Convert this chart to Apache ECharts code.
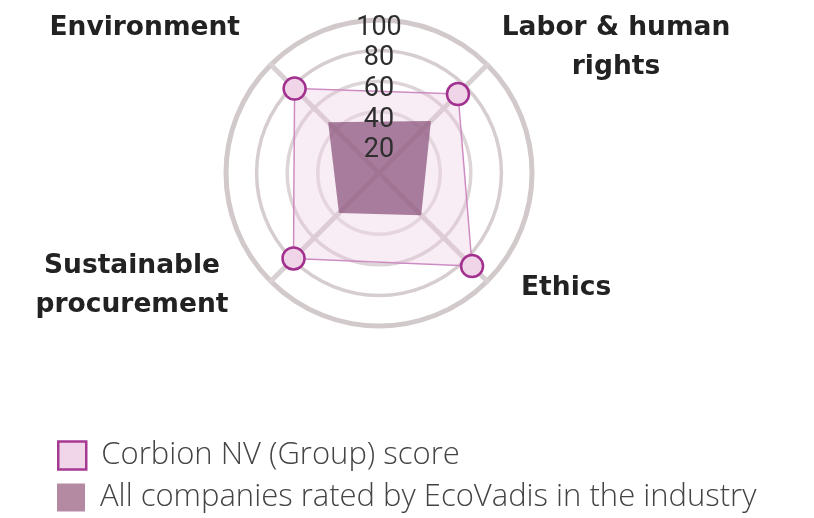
<!DOCTYPE html>
<html>
<head>
<meta charset="utf-8">
<script src="https://cdn.jsdelivr.net/npm/echarts@6.0.0/dist/echarts.min.js"></script>
<style>
html, body { margin: 0; padding: 0; background: #fff; }
#chart { width: 814px; height: 518px; }
</style>
</head>
<body>
<div id="chart"></div>
<script>
// indicators in radar order: start top-left, go counter-clockwise
const indicators = ['Environment', 'Sustainable\nprocurement', 'Ethics', 'Labor & human\nrights'];
const corbionScores = [78, 79, 86, 73];
const industryScores = [47, 37, 39, 48];
const tickValues = [20, 40, 60, 80, 100];
const seriesNames = ['Corbion NV (Group) score', 'All companies rated by EcoVadis in the industry'];

const CENTER = [379, 173];
const RADIUS = 153;
const maxScore = tickValues[tickValues.length - 1];
const step = tickValues[1] - tickValues[0];

const chart = echarts.init(document.getElementById('chart'));

// radar's own name layout doesn't match, names are placed by hand
const namePos = [
    { x: 240, y: 28, align: 'right' },
    { x: 132, y: 286, align: 'center' },
    { x: 521, y: 288, align: 'left' },
    { x: 616, y: 48, align: 'center' }
];

const indicatorList = indicators.map(n => ({ name: n, min: 0, max: maxScore }));

const legendText = {
    fontSize: 31,
    fontWeight: 300,
    fontFamily: '"Open Sans", sans-serif',
    color: '#444',
    lineHeight: 31,
    padding: [0, 0, 0, 10]
};

chart.setOption({
    animation: false,
    radar: [
        {
            center: CENTER,
            radius: RADIUS,
            startAngle: 135,
            shape: 'circle',
            splitNumber: tickValues.length,
            indicator: indicatorList,
            axisName: { show: false },
            axisLine: { lineStyle: { color: '#d8d0d2', width: 5 } },
            splitLine: {
                lineStyle: {
                    color: ['transparent', 'transparent', '#e4dddf', '#dcd4d6', '#d6cdcf', 'transparent'],
                    width: 3.5
                }
            },
            splitArea: { show: false }
        },
        {
            // outer ring is thicker
            center: CENTER,
            radius: RADIUS,
            startAngle: 135,
            shape: 'circle',
            splitNumber: tickValues.length,
            indicator: indicatorList,
            silent: true,
            axisName: { show: false },
            axisLine: { show: false },
            splitLine: {
                lineStyle: {
                    color: ['transparent', 'transparent', 'transparent', 'transparent', 'transparent', '#d2c9cb'],
                    width: 5
                }
            },
            splitArea: { show: false }
        }
    ],
    polar: { center: CENTER, radius: RADIUS },
    angleAxis: { show: false, startAngle: 90, min: 0, max: 360 },
    radiusAxis: {
        min: 0,
        max: maxScore,
        interval: step,
        z: 10,
        axisLine: { show: false },
        axisTick: { show: false },
        splitLine: { show: false },
        axisLabel: {
            margin: 0,
            align: 'center',
            verticalAlign: 'top',
            lineHeight: 16,
            fontSize: 27,
            fontFamily: 'Roboto, "Open Sans", sans-serif',
            color: '#2e2e2e',
            formatter: v => tickValues.includes(v) ? String(v) : ''
        }
    },
    legend: [
        {
            left: 57,
            top: 440,
            padding: 0,
            itemWidth: 28,
            itemHeight: 28,
            selectedMode: false,
            textStyle: legendText,
            data: [{ name: seriesNames[0], icon: 'rect', itemStyle: { color: '#f1d6ea', borderColor: '#a63a92', borderWidth: 2.5 } }]
        },
        {
            left: 57,
            top: 482,
            padding: 0,
            itemWidth: 28,
            itemHeight: 28,
            selectedMode: false,
            textStyle: legendText,
            data: [{ name: seriesNames[1], icon: 'rect', itemStyle: { color: '#b48aa3', borderWidth: 0 } }]
        }
    ],
    graphic: indicators.map((n, i) => ({
        type: 'text',
        z: 20,
        style: {
            text: n,
            x: namePos[i].x,
            y: namePos[i].y,
            align: namePos[i].align,
            verticalAlign: 'middle',
            lineHeight: 39,
            fontSize: 26.5,
            fontWeight: 'bold',
            fontFamily: '"DejaVu Sans", sans-serif',
            fill: '#222'
        }
    })),
    series: [
        {
            type: 'radar',
            radarIndex: 0,
            symbol: 'circle',
            symbolSize: 22,
            data: [
                {
                    name: seriesNames[0],
                    value: corbionScores,
                    lineStyle: { color: '#c982bd', width: 1.5 },
                    itemStyle: { color: '#f0d4e8', borderColor: '#a2308e', borderWidth: 2.5 },
                    areaStyle: { color: 'rgba(232, 196, 222, 0.45)' }
                },
                {
                    name: seriesNames[1],
                    value: industryScores,
                    symbol: 'none',
                    lineStyle: { width: 0, opacity: 0 },
                    itemStyle: { color: '#b48aa3' },
                    areaStyle: { color: 'rgba(142, 87, 125, 0.75)', opacity: 1 }
                }
            ]
        }
    ]
});
</script>
</body>
</html>
